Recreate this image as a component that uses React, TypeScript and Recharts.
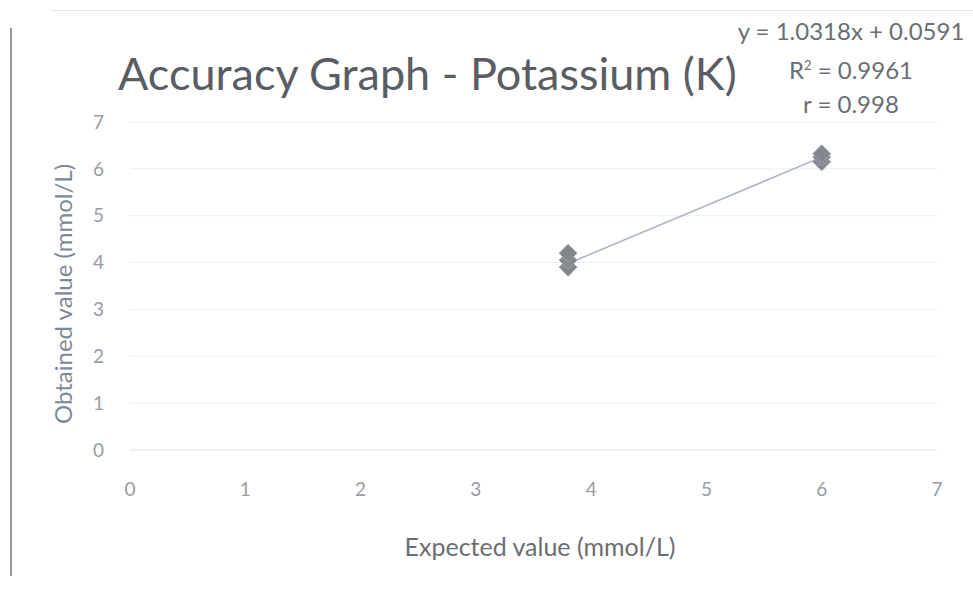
import { CartesianGrid, Scatter, ScatterChart, XAxis, YAxis } from "recharts";

const expected = [3.8, 3.8, 3.8, 6.0, 6.0, 6.0];
const obtained = [3.9, 4.05, 4.2, 6.15, 6.25, 6.32];
const trendX = [3.8, 6.0];
const trendY = [3.98, 6.25];
const ticks = [0, 1, 2, 3, 4, 5, 6, 7];

const points = expected.map((x, i) => ({ x, y: obtained[i] }));
const trend = trendX.map((x, i) => ({ x, y: trendY[i] }));

const font = "Lato, 'Open Sans', sans-serif";
const ink = "#6b6e73";

function Diamond(props: any) {
  const { cx, cy } = props;
  const r = 9;
  return (
    <polygon
      points={`${cx},${cy - r} ${cx + r},${cy} ${cx},${cy + r} ${cx - r},${cy}`}
      fill="#83878d"
      stroke="#a4a8ae"
      strokeWidth={1}
    />
  );
}

export default function App() {
  return (
    <div style={{ position: "absolute", left: 0, top: 0, width: 973, height: 590, background: "#fff", fontFamily: font }}>
      <div style={{ position: "absolute", left: 10, top: 28, width: 2, height: 548, background: "#9a9a9a" }} />
      <div style={{ position: "absolute", left: 50, top: 10, width: 923, height: 1, background: "#e4e6ea" }} />
      <ScatterChart width={973} height={590} margin={{ top: 122, right: 36, bottom: 110, left: 70 }}>
        <CartesianGrid horizontal vertical={false} stroke="#eceef2" />
        <XAxis
          type="number"
          dataKey="x"
          domain={[0, 7]}
          ticks={ticks}
          tickLine={false}
          tickSize={0}
          tickMargin={33}
          axisLine={{ stroke: "#e6e8ec" }}
          tick={{ fontSize: 19, fill: "#999ca1", fontFamily: font }}
        />
        <YAxis
          type="number"
          dataKey="y"
          domain={[0, 7]}
          ticks={ticks}
          width={60}
          tickLine={false}
          tickSize={0}
          tickMargin={26}
          axisLine={false}
          tick={{ fontSize: 19, fill: "#999ca1", fontFamily: font }}
        />
        <Scatter
          data={trend}
          line={{ stroke: "#a9b3c0", strokeWidth: 1.5 }}
          shape={() => <g />}
          isAnimationActive={false}
        />
        <Scatter data={points} shape={<Diamond />} isAnimationActive={false} />
      </ScatterChart>
      <div style={{ position: "absolute", left: 118, top: 46, fontSize: 45, color: "#5a5d63", whiteSpace: "nowrap" }}>
        Accuracy Graph - Potassium (K)
      </div>
      <div style={{ position: "absolute", left: 720, top: 14, width: 262, textAlign: "center", fontSize: 24, color: ink, lineHeight: "34px" }}>
        <div>y = 1.0318x + 0.0591</div>
        <div>
          R<sup style={{ fontSize: 13 }}>2</sup> = 0.9961
        </div>
        <div>r = 0.998</div>
      </div>
      <div style={{ position: "absolute", left: 290, top: 531, width: 500, textAlign: "center", fontSize: 25, color: ink }}>
        Expected value (mmol/L)
      </div>
      <div
        style={{
          position: "absolute",
          left: 62,
          top: 294,
          transform: "translate(-50%, -50%) rotate(-90deg)",
          fontSize: 24,
          color: "#7d8899",
          whiteSpace: "nowrap",
        }}
      >
        Obtained value (mmol/L)
      </div>
    </div>
  );
}
